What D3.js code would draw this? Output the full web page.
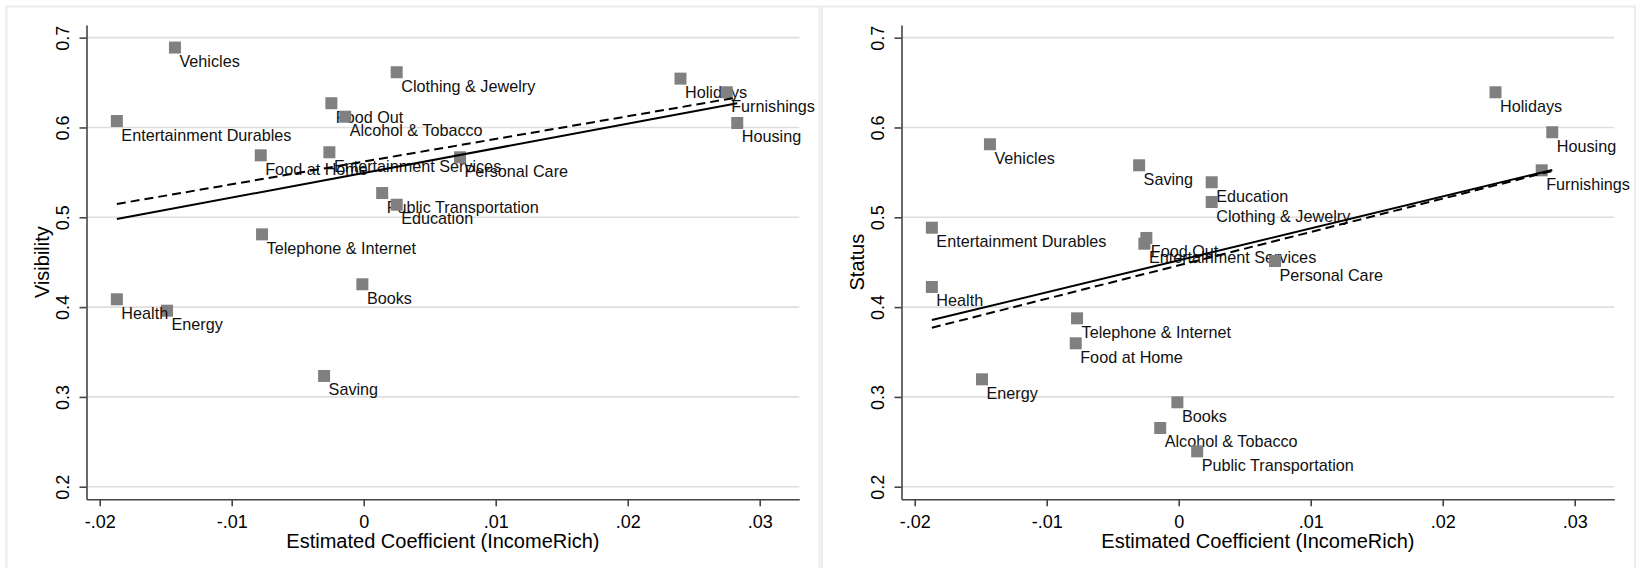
<!DOCTYPE html>
<html>
<head>
<meta charset="utf-8">
<script src="https://cdn.jsdelivr.net/npm/d3@7"></script>
<style>
  html, body { margin: 0; padding: 0; background: #fff; }
  svg { display: block; font-family: "Liberation Sans", Arial, Helvetica, sans-serif; }
</style>
</head>
<body>
<svg id="chart" width="1641" height="568"></svg>
<script>
// ---------- DATA ----------
const categories = [
  "Food at Home", "Food Out", "Alcohol & Tobacco", "Housing", "Energy",
  "Public Transportation", "Vehicles", "Telephone & Internet", "Education",
  "Clothing & Jewelry", "Health", "Holidays", "Furnishings",
  "Entertainment Durables", "Entertainment Services", "Personal Care", "Books", "Saving"
];
const coefIncomeRich = [
  -0.0078, -0.00245, -0.0014, 0.0283, -0.0149,
  0.0014, -0.0143, -0.0077, 0.0025,
  0.0025, -0.0187, 0.0240, 0.0275,
  -0.0187, -0.0026, 0.0073, -0.0001, -0.0030
];
const visibility = [
  0.569, 0.627, 0.612, 0.605, 0.396,
  0.527, 0.689, 0.481, 0.514,
  0.6615, 0.4087, 0.6544, 0.6392,
  0.6072, 0.5724, 0.5668, 0.4254, 0.3233
];
const status = [
  0.3597, 0.477, 0.2654, 0.5947, 0.3196,
  0.2394, 0.5813, 0.3875, 0.539,
  0.517, 0.4224, 0.6392, 0.5523,
  0.4884, 0.4706, 0.4513, 0.294, 0.5579
];
// fitted lines (endpoints at min / max coefficient)
const fitX = [-0.0187, 0.0283];
const visFitSolid = [0.4981, 0.6270];
const visFitDashed = [0.5148, 0.6334];
const statusFitSolid = [0.3856, 0.5527];
const statusFitDashed = [0.3770, 0.5516];

const xTicks = [-0.02, -0.01, 0, 0.01, 0.02, 0.03];
const xTickLabels = ["-.02", "-.01", "0", ".01", ".02", ".03"];
const yTicks = [0.2, 0.3, 0.4, 0.5, 0.6, 0.7];
const yTickLabels = ["0.2", "0.3", "0.4", "0.5", "0.6", "0.7"];
const xTitle = "Estimated Coefficient (IncomeRich)";

// ---------- DRAW ----------
const svg = d3.select("#chart");
svg.append("rect").attr("width", 1641).attr("height", 568).attr("fill", "#fff");

const panels = [
  { title: "Visibility", values: visibility, solid: visFitSolid, dashed: visFitDashed, dx: 0, bx: 6.5, bw: 813 },
  { title: "Status", values: status, solid: statusFitSolid, dashed: statusFitDashed, dx: 815, bx: 822, bw: 813 }
];

panels.forEach(p => {
  const g = svg.append("g");
  // panel border
  g.append("rect")
    .attr("x", p.bx).attr("y", 6.5).attr("width", p.bw).attr("height", 640)
    .attr("fill", "none").attr("stroke", "#ececec").attr("stroke-width", 2);

  const x = d3.scaleLinear().domain([-0.021, 0.033]).range([86.5 + p.dx, 799.3 + p.dx]);
  const y = d3.scaleLinear().domain([0.186, 0.7141]).range([499.3, 25]);

  // gridlines
  g.append("g").selectAll("line").data(yTicks).join("line")
    .attr("x1", x.range()[0]).attr("x2", x.range()[1])
    .attr("y1", d => y(d)).attr("y2", d => y(d))
    .attr("stroke", "#dedede").attr("stroke-width", 1.6);

  // x axis
  const xa = g.append("g").attr("transform", `translate(0,${y.range()[0]})`)
    .call(d3.axisBottom(x).tickValues(xTicks).tickFormat((d, i) => xTickLabels[i])
      .tickSize(7).tickPadding(9.2).tickSizeOuter(0));
  xa.select(".domain").attr("stroke", "#444").attr("stroke-width", 1.6);
  xa.selectAll(".tick line").attr("stroke", "#444").attr("stroke-width", 1.6);
  xa.selectAll(".tick text").attr("font-size", 18).attr("fill", "#000")
    .attr("font-family", "Liberation Sans, Arial, sans-serif");

  // y axis
  const ya = g.append("g").attr("transform", `translate(${x.range()[0]},0)`)
    .call(d3.axisLeft(y).tickValues(yTicks).tickFormat((d, i) => yTickLabels[i])
      .tickSize(7).tickSizeOuter(0));
  ya.select(".domain").attr("stroke", "#444").attr("stroke-width", 1.6);
  ya.selectAll(".tick line").attr("stroke", "#444").attr("stroke-width", 1.6);
  ya.selectAll(".tick text")
    .attr("transform", "rotate(-90)")
    .attr("x", 0).attr("y", -18).attr("dy", 0)
    .attr("text-anchor", "middle")
    .attr("font-size", 18).attr("fill", "#000")
    .attr("font-family", "Liberation Sans, Arial, sans-serif");

  // axis titles
  g.append("text")
    .attr("x", (x.range()[0] + x.range()[1]) / 2).attr("y", 548.3)
    .attr("text-anchor", "middle").attr("font-size", 20).attr("fill", "#000")
    .text(xTitle);
  const cy = (y.range()[0] + y.range()[1]) / 2;
  g.append("text")
    .attr("transform", `translate(${x.range()[0] - 38},${cy}) rotate(-90)`)
    .attr("text-anchor", "middle").attr("font-size", 20).attr("fill", "#000")
    .text(p.title);

  // points with labels, drawn in data order
  const pts = g.append("g");
  categories.forEach((c, i) => {
    const px = x(coefIncomeRich[i]), py = y(p.values[i]);
    pts.append("rect")
      .attr("x", px - 6).attr("y", py - 6).attr("width", 12).attr("height", 12)
      .attr("fill", "#808080");
    pts.append("text")
      .attr("x", px + 4.5).attr("y", py + 19.5)
      .attr("font-size", 16.2).attr("fill", "#111")
      .text(c);
  });

  // fitted lines
  const line = d3.line().x(d => x(d[0])).y(d => y(d[1]));
  g.append("path").datum(fitX.map((v, i) => [v, p.dashed[i]]))
    .attr("d", line).attr("fill", "none").attr("stroke", "#000")
    .attr("stroke-width", 2).attr("stroke-dasharray", "9,5");
  g.append("path").datum(fitX.map((v, i) => [v, p.solid[i]]))
    .attr("d", line).attr("fill", "none").attr("stroke", "#000")
    .attr("stroke-width", 2);
});
</script>
</body>
</html>
